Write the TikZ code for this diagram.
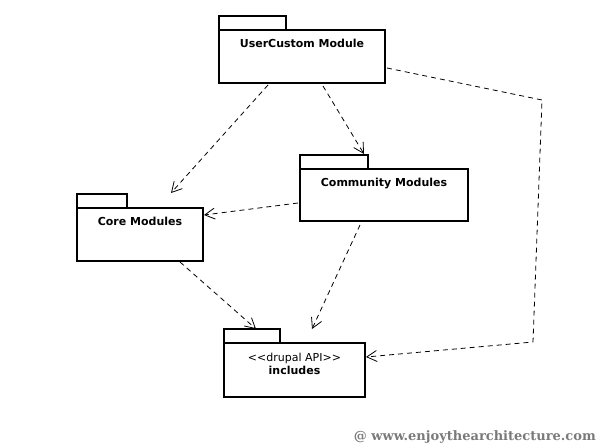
\documentclass[tikz,border=0pt]{standalone}
\usepackage{fontspec}
\setmainfont{DejaVu Sans}
\newfontfamily\wmfont{DejaVu Serif}
\usetikzlibrary{arrows.meta,calc}
\definecolor{wmgray}{HTML}{7A7A7A}
\tikzset{
  pkgbody/.style={draw, line width=1.8pt, inner sep=0pt, outer sep=0pt, anchor=north west},
  pkgtab/.style={draw, line width=1.8pt, inner sep=0pt, outer sep=0pt, anchor=south west, minimum height=14pt},
  lbl/.style={font=\fontsize{11}{13}\selectfont\bfseries, inner sep=0pt, anchor=base},
  lblreg/.style={font=\fontsize{11}{13}\selectfont, inner sep=0pt, anchor=base},
  dep/.style={line width=0.8pt, dash pattern=on 5pt off 4pt, -{Straight Barb[length=10pt,width=11pt,line width=0.8pt]}}
}
\begin{document}
\begin{tikzpicture}[x=1pt,y=-1pt]
\useasboundingbox (0,0) rectangle (608,445);
% packages
\node[pkgbody, minimum width=166pt, minimum height=53pt] (uc) at (219,30) {};
\node[pkgtab, minimum width=67pt] (uctab) at (uc.north west) {};
\node[lbl] (uct) at ($(uc.north)+(0,17.5)$) {UserCustom Module};

\node[pkgbody, minimum width=168pt, minimum height=52pt] (com) at (300,169) {};
\node[pkgtab, minimum width=68pt] (comtab) at (com.north west) {};
\node[lbl] (comt) at ($(com.north)+(0,17)$) {Community Modules};

\node[pkgbody, minimum width=126pt, minimum height=53pt] (core) at (77,208) {};
\node[pkgtab, minimum width=50pt] (coretab) at (core.north west) {};
\node[lbl] (coret) at ($(core.north)+(0,17)$) {Core Modules};

\node[pkgbody, minimum width=141pt, minimum height=54pt] (inc) at (224,343) {};
\node[pkgtab, minimum width=56pt] (inctab) at (inc.north west) {};
\node[lblreg] (inct1) at ($(inc.north)+(0,18)$) {<{}<drupal API>{}>};
\node[lbl] (inct2) at ($(inc.north)+(0,31)$) {includes};

% dependencies
\draw[dep] ($(uc.south west)+(49,2)$) -- ($(core.north west)+(94,-15)$);
\draw[dep] ($(uc.south west)+(104,3)$) -- ($(com.north west)+(64,-15)$);
\draw[dep] ($(com.west)+(-2,8)$) -- ($(core.north east)+(1,7)$);
\draw[dep] ($(core.south west)+(103,1)$) -- ($(inc.north west)+(32,-14)$);
\draw[dep] ($(com.south west)+(60,4)$) -- ($(inc.north west)+(88,-14)$);
\coordinate (bend1) at (542,100);
\coordinate (bend2) at (533,342);
\draw[dep] ($(uc.east)+(2,11.5)$) -- (bend1) -- (bend2) -- ($(inc.east)+(1,-13)$);

\node[font=\wmfont\fontsize{13}{15}\selectfont\bfseries, text=wmgray, inner sep=0pt, anchor=base east] (wm) at (596,440) {@ www.enjoythearchitecture.com};
\end{tikzpicture}
\end{document}
